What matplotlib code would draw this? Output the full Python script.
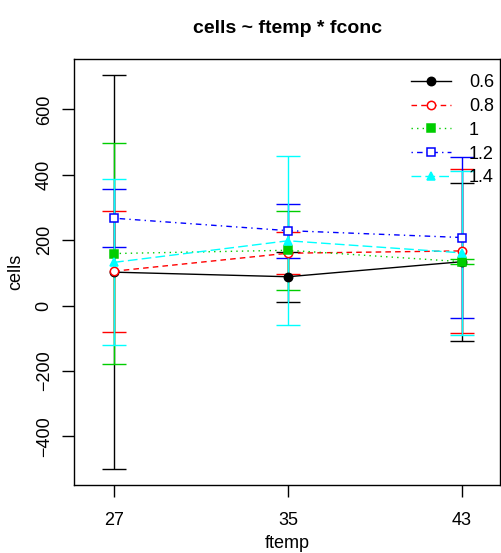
import matplotlib
matplotlib.use("Agg")
import matplotlib.pyplot as plt

plt.rcParams['font.family'] = ['Liberation Sans', 'DejaVu Sans']

# group means and half-widths of the error bars
ftemp = [27, 35, 43]
groups = ['0.6', '0.8', '1', '1.2', '1.4']
means = {
    '0.6': [102, 88, 134],
    '0.8': [105, 160, 167],
    '1':   [159, 169, 134],
    '1.2': [267, 229, 208],
    '1.4': [132, 198, 161],
}
halfwidth = {
    '0.6': [603, 77, 242],
    '0.8': [185, 64, 252],
    '1':   [337, 121, 8],
    '1.2': [89, 83, 247],
    '1.4': [254, 259, 251],
}

colors = ['black', 'red', '#00CD00', 'blue', 'cyan']
styles = ['-', (0, (4, 3)), (0, (1, 3)), (0, (1, 3, 4, 3)), (0, (7, 3))]
markers = ['o', 'o', 's', 's', '^']
filled = [True, False, True, False, True]

fig = plt.figure(figsize=(5.01, 5.53), dpi=100)
ax = fig.add_axes([74.3 / 501, 1 - 485 / 553, (500 - 74.3) / 501, (485 - 59) / 553])

handles = []
for i, g in enumerate(groups):
    ax.errorbar(ftemp, means[g], yerr=halfwidth[g], fmt='none', ecolor=colors[i],
                elinewidth=1, capsize=8.6, capthick=1, zorder=2 + i * 0.1)
    face = colors[i] if filled[i] else 'white'
    h, = ax.plot(ftemp, means[g], color=colors[i], linestyle=styles[i], linewidth=1,
                 marker=markers[i], markersize=6, markerfacecolor=face,
                 markeredgecolor=colors[i], markeredgewidth=1.1, zorder=4 + i * 0.1)
    handles.append(h)

ax.set_xlim(25.17, 44.75)
ax.set_ylim(-549, 754)
ax.set_xticks(ftemp)
ax.set_xticklabels([str(t) for t in ftemp])
ax.set_yticks([-400, -200, 0, 200, 400, 600])
ax.set_yticklabels(['\u2212400', '\u2212200', '0', '200', '400', '600'], rotation=90, va='center')
ax.tick_params(direction='out', length=8.6, width=1, labelsize=13)
ax.tick_params(axis='x', pad=11)
ax.tick_params(axis='y', pad=7)
for s in ax.spines.values():
    s.set_linewidth(1)

ax.set_xlabel('ftemp', fontsize=13, labelpad=4)
ax.set_ylabel('cells', fontsize=13, labelpad=8)
ax.set_title('cells ~ ftemp * fconc', fontsize=14, fontweight='bold', pad=19)

ax.legend(handles, groups, loc='upper left', bbox_to_anchor=(411 / 501, 1 - 74 / 553),
          bbox_transform=fig.transFigure, frameon=False, fontsize=13,
          handlelength=2.2, handletextpad=1.0, labelspacing=0.38, borderpad=0,
          borderaxespad=0)

fig.savefig('out.png', dpi=100)
